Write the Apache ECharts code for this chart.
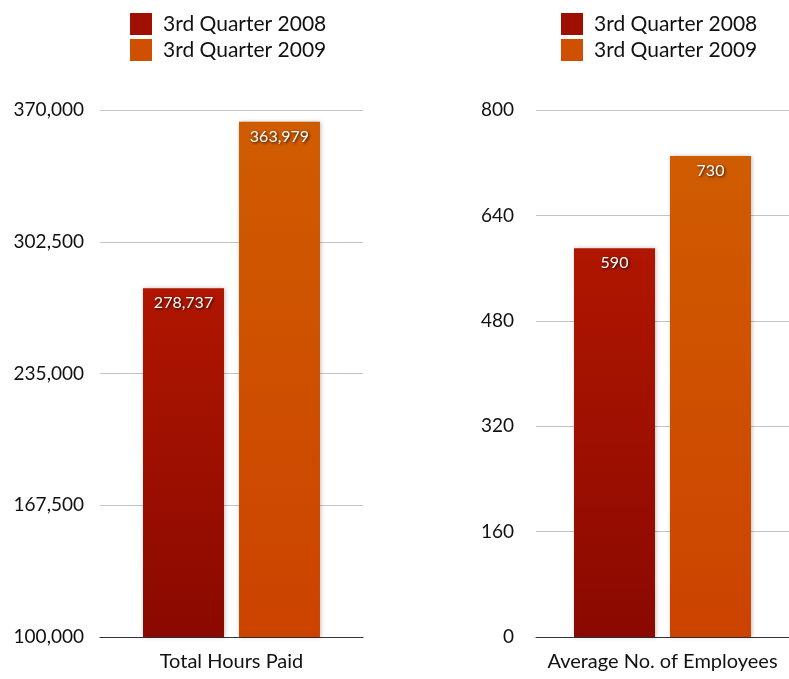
<!DOCTYPE html>
<html>
<head>
<meta charset="utf-8">
<script src="https://cdn.jsdelivr.net/npm/echarts@6/dist/echarts.min.js"></script>
<style>
  html, body { margin: 0; padding: 0; background: #fff; }
  #chart { width: 789px; height: 679px; }
</style>
</head>
<body>
<div id="chart"></div>
<script>
// Quarterly comparison data
const seriesNames = ['3rd Quarter 2008', '3rd Quarter 2009'];
const hoursCategory = ['Total Hours Paid'];
const employeesCategory = ['Average No. of Employees'];
const hoursPaid = [278737, 363979];
const avgEmployees = [590, 730];
const hoursTicks = [100000, 370000, 67500];   // min, max, interval
const employeeTicks = [0, 800, 160];           // min, max, interval

const FONT = 'Lato, "Open Sans", sans-serif';

const fills = [
  new echarts.graphic.LinearGradient(0, 0, 0, 1, [
    { offset: 0, color: '#b01600' },
    { offset: 1, color: '#8a0900' }
  ]),
  new echarts.graphic.LinearGradient(0, 0, 0, 1, [
    { offset: 0, color: '#d05c00' },
    { offset: 1, color: '#cc4300' }
  ])
];
const swatch = ['#a01000', '#ce5000'];

const fmt = v => v.toLocaleString('en-US');

function barSeries(name, idx, value, axisIdx) {
  return {
    name: name,
    type: 'bar',
    xAxisIndex: axisIdx,
    yAxisIndex: axisIdx,
    data: [value],
    barWidth: 81,
    barGap: '18.5%',
    itemStyle: {
      color: fills[idx],
      shadowColor: 'rgba(0,0,0,0.25)',
      shadowBlur: 4,
      shadowOffsetX: 1,
      shadowOffsetY: 0
    },
    label: {
      show: true,
      position: 'insideTop',
      distance: 7,
      color: '#fff',
      fontFamily: FONT,
      fontSize: 16,
      textShadowColor: 'rgba(0,0,0,0.85)',
      textShadowBlur: 3,
      textShadowOffsetX: 1,
      textShadowOffsetY: 1,
      formatter: p => fmt(p.value)
    }
  };
}

function valueAxis(gridIdx, ticks, margin) {
  return {
    type: 'value',
    gridIndex: gridIdx,
    min: ticks[0],
    max: ticks[1],
    interval: ticks[2],
    axisLine: { show: false },
    axisTick: { show: false },
    splitLine: { lineStyle: { color: '#c4c4c4', width: 1 } },
    axisLabel: {
      color: '#111',
      fontFamily: FONT,
      fontSize: 19,
      margin: margin,
      formatter: v => fmt(v)
    }
  };
}

function catAxis(gridIdx, cats) {
  return {
    type: 'category',
    gridIndex: gridIdx,
    data: cats,
    axisLine: { lineStyle: { color: '#333', width: 1 } },
    axisTick: { show: false },
    axisLabel: {
      color: '#111',
      fontFamily: FONT,
      fontSize: 20,
      margin: 15
    }
  };
}

function legend(left) {
  return {
    orient: 'vertical',
    left: left,
    top: 8,
    itemWidth: 22,
    itemHeight: 22,
    itemGap: 4,
    icon: 'rect',
    data: seriesNames.map((n, i) => ({ name: n, itemStyle: { color: swatch[i] } })),
    textStyle: { color: '#111', fontFamily: FONT, fontSize: 21, padding: [0, 0, 0, 6] }
  };
}

const chart = echarts.init(document.getElementById('chart'));
chart.setOption({
  backgroundColor: '#fff',
  animation: false,
  legend: [legend(125), legend(556)],
  grid: [
    { left: 100, right: 426, top: 110, bottom: 42 },
    { left: 536, right: 0, top: 110, bottom: 42 }
  ],
  xAxis: [catAxis(0, hoursCategory), catAxis(1, employeesCategory)],
  yAxis: [valueAxis(0, hoursTicks, 16), valueAxis(1, employeeTicks, 22)],
  series: [
    barSeries(seriesNames[0], 0, hoursPaid[0], 0),
    barSeries(seriesNames[1], 1, hoursPaid[1], 0),
    barSeries(seriesNames[0], 0, avgEmployees[0], 1),
    barSeries(seriesNames[1], 1, avgEmployees[1], 1)
  ]
});
</script>
</body>
</html>
